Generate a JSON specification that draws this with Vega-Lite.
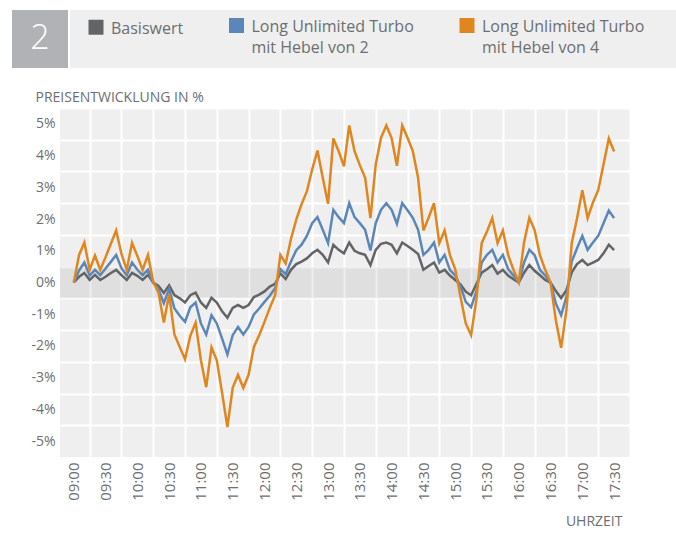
{
  "$schema": "https://vega.github.io/schema/vega-lite/v6.json",
  "padding": {"left": 12, "top": 10, "right": 0, "bottom": 0},
  "background": "white",
  "bounds": "full",
  "spacing": 22,
  "config": {
    "font": "Open Sans",
    "view": {"stroke": null},
    "axis": {"labelOverlap": false},
    "style": {"guide-label": {"lineHeight": 21}}
  },
  "vconcat": [
    {
      "bounds": "flush",
      "spacing": 2,
      "hconcat": [
        {
          "width": 56, "height": 58,
          "view": {"fill": "#b1b2b5", "stroke": null},
          "data": {"values": [{}]},
          "mark": {"type": "text", "text": "2", "fontSize": 34, "fontWeight": 300, "color": "white", "font": "Open Sans"},
          "encoding": {}
        },
        {
          "width": 606, "height": 58,
          "view": {"fill": "#efefef", "stroke": null},
          "data": {"values": []},
          "mark": "rect",
          "encoding": {}
        }
      ]
    },
    {
      "bounds": "flush",
      "spacing": 2,
      "hconcat": [
        {
          "width": 46, "height": 349,
          "data": {"values": []},
          "mark": "rect",
          "encoding": {}
        },
        {
          "width": 570, "height": 349,
          "view": {"fill": "#efefef", "stroke": null},
          "layer": [
            {
              "data": {"values": [{}]},
              "mark": {"type": "rect", "color": "#000000", "opacity": 0.065},
              "encoding": {
                "y": {"datum": -0.5, "type": "quantitative", "axis": {"labelOverlap": false, "tickCount": 20}},
                "y2": {"datum": 0.5}
              }
            },
            {
              "data": {
                "format": {"parse": {"Uhrzeit": "utc:'%H:%M'"}},
                "values": [
{"Uhrzeit":"09:00","Basiswert":0,"Hebel 2":0,"Hebel 4":0},
{"Uhrzeit":"09:05","Basiswert":0.18,"Hebel 2":0.38,"Hebel 4":0.87},
{"Uhrzeit":"09:10","Basiswert":0.30,"Hebel 2":0.63,"Hebel 4":1.26},
{"Uhrzeit":"09:15","Basiswert":0.08,"Hebel 2":0.22,"Hebel 4":0.40},
{"Uhrzeit":"09:20","Basiswert":0.24,"Hebel 2":0.40,"Hebel 4":0.85},
{"Uhrzeit":"09:25","Basiswert":0.08,"Hebel 2":0.23,"Hebel 4":0.40},
{"Uhrzeit":"09:30","Basiswert":0.18,"Hebel 2":0.44,"Hebel 4":0.80},
{"Uhrzeit":"09:35","Basiswert":0.30,"Hebel 2":0.65,"Hebel 4":1.22},
{"Uhrzeit":"09:40","Basiswert":0.40,"Hebel 2":0.87,"Hebel 4":1.64},
{"Uhrzeit":"09:45","Basiswert":0.23,"Hebel 2":0.45,"Hebel 4":0.90},
{"Uhrzeit":"09:50","Basiswert":0.08,"Hebel 2":0.23,"Hebel 4":0.40},
{"Uhrzeit":"09:55","Basiswert":0.30,"Hebel 2":0.63,"Hebel 4":1.25},
{"Uhrzeit":"10:00","Basiswert":0.21,"Hebel 2":0.40,"Hebel 4":0.84},
{"Uhrzeit":"10:05","Basiswert":0.08,"Hebel 2":0.23,"Hebel 4":0.40},
{"Uhrzeit":"10:10","Basiswert":0.24,"Hebel 2":0.40,"Hebel 4":0.87},
{"Uhrzeit":"10:15","Basiswert":0.00,"Hebel 2":0.00,"Hebel 4":0.02},
{"Uhrzeit":"10:20","Basiswert":-0.11,"Hebel 2":-0.22,"Hebel 4":-0.32},
{"Uhrzeit":"10:25","Basiswert":-0.33,"Hebel 2":-0.65,"Hebel 4":-1.26},
{"Uhrzeit":"10:30","Basiswert":-0.09,"Hebel 2":-0.20,"Hebel 4":-0.37},
{"Uhrzeit":"10:35","Basiswert":-0.40,"Hebel 2":-0.82,"Hebel 4":-1.64},
{"Uhrzeit":"10:40","Basiswert":-0.50,"Hebel 2":-1.05,"Hebel 4":-2.03},
{"Uhrzeit":"10:45","Basiswert":-0.63,"Hebel 2":-1.24,"Hebel 4":-2.42},
{"Uhrzeit":"10:50","Basiswert":-0.40,"Hebel 2":-0.78,"Hebel 4":-1.68},
{"Uhrzeit":"10:55","Basiswert":-0.32,"Hebel 2":-0.63,"Hebel 4":-1.27},
{"Uhrzeit":"11:00","Basiswert":-0.63,"Hebel 2":-1.29,"Hebel 4":-2.45},
{"Uhrzeit":"11:05","Basiswert":-0.80,"Hebel 2":-1.64,"Hebel 4":-3.30},
{"Uhrzeit":"11:10","Basiswert":-0.48,"Hebel 2":-1.03,"Hebel 4":-2.04},
{"Uhrzeit":"11:15","Basiswert":-0.63,"Hebel 2":-1.29,"Hebel 4":-2.45},
{"Uhrzeit":"11:20","Basiswert":-0.91,"Hebel 2":-1.77,"Hebel 4":-3.48},
{"Uhrzeit":"11:25","Basiswert":-1.11,"Hebel 2":-2.27,"Hebel 4":-4.56},
{"Uhrzeit":"11:30","Basiswert":-0.80,"Hebel 2":-1.66,"Hebel 4":-3.32},
{"Uhrzeit":"11:35","Basiswert":-0.71,"Hebel 2":-1.40,"Hebel 4":-2.91},
{"Uhrzeit":"11:40","Basiswert":-0.80,"Hebel 2":-1.64,"Hebel 4":-3.32},
{"Uhrzeit":"11:45","Basiswert":-0.71,"Hebel 2":-1.40,"Hebel 4":-2.91},
{"Uhrzeit":"11:50","Basiswert":-0.46,"Hebel 2":-1.01,"Hebel 4":-2.03},
{"Uhrzeit":"11:55","Basiswert":-0.38,"Hebel 2":-0.82,"Hebel 4":-1.66},
{"Uhrzeit":"12:00","Basiswert":-0.28,"Hebel 2":-0.61,"Hebel 4":-1.24},
{"Uhrzeit":"12:05","Basiswert":-0.13,"Hebel 2":-0.42,"Hebel 4":-0.80},
{"Uhrzeit":"12:10","Basiswert":-0.04,"Hebel 2":-0.18,"Hebel 4":-0.41},
{"Uhrzeit":"12:15","Basiswert":0.29,"Hebel 2":0.42,"Hebel 4":0.87},
{"Uhrzeit":"12:20","Basiswert":0.11,"Hebel 2":0.26,"Hebel 4":0.60},
{"Uhrzeit":"12:25","Basiswert":0.40,"Hebel 2":0.66,"Hebel 4":1.37},
{"Uhrzeit":"12:30","Basiswert":0.58,"Hebel 2":1.02,"Hebel 4":1.98},
{"Uhrzeit":"12:35","Basiswert":0.66,"Hebel 2":1.19,"Hebel 4":2.47},
{"Uhrzeit":"12:40","Basiswert":0.76,"Hebel 2":1.47,"Hebel 4":2.87},
{"Uhrzeit":"12:45","Basiswert":0.92,"Hebel 2":1.87,"Hebel 4":3.56},
{"Uhrzeit":"12:50","Basiswert":1.03,"Hebel 2":2.06,"Hebel 4":4.16},
{"Uhrzeit":"12:55","Basiswert":0.87,"Hebel 2":1.66,"Hebel 4":3.30},
{"Uhrzeit":"13:00","Basiswert":0.63,"Hebel 2":1.24,"Hebel 4":2.48},
{"Uhrzeit":"13:05","Basiswert":1.19,"Hebel 2":2.29,"Hebel 4":4.54},
{"Uhrzeit":"13:10","Basiswert":1.03,"Hebel 2":2.06,"Hebel 4":4.14},
{"Uhrzeit":"13:15","Basiswert":0.92,"Hebel 2":1.87,"Hebel 4":3.66},
{"Uhrzeit":"13:20","Basiswert":1.26,"Hebel 2":2.50,"Hebel 4":4.95},
{"Uhrzeit":"13:25","Basiswert":1.00,"Hebel 2":2.06,"Hebel 4":4.14},
{"Uhrzeit":"13:30","Basiswert":0.92,"Hebel 2":1.87,"Hebel 4":3.70},
{"Uhrzeit":"13:35","Basiswert":0.87,"Hebel 2":1.66,"Hebel 4":3.30},
{"Uhrzeit":"13:40","Basiswert":0.55,"Hebel 2":1.01,"Hebel 4":2.03},
{"Uhrzeit":"13:45","Basiswert":1.03,"Hebel 2":1.87,"Hebel 4":3.72},
{"Uhrzeit":"13:50","Basiswert":1.22,"Hebel 2":2.29,"Hebel 4":4.56},
{"Uhrzeit":"13:55","Basiswert":1.26,"Hebel 2":2.50,"Hebel 4":4.95},
{"Uhrzeit":"14:00","Basiswert":1.19,"Hebel 2":2.29,"Hebel 4":4.55},
{"Uhrzeit":"14:05","Basiswert":0.92,"Hebel 2":1.85,"Hebel 4":3.68},
{"Uhrzeit":"14:10","Basiswert":1.26,"Hebel 2":2.50,"Hebel 4":4.95},
{"Uhrzeit":"14:15","Basiswert":1.15,"Hebel 2":2.28,"Hebel 4":4.56},
{"Uhrzeit":"14:20","Basiswert":1.03,"Hebel 2":2.04,"Hebel 4":4.14},
{"Uhrzeit":"14:25","Basiswert":0.90,"Hebel 2":1.66,"Hebel 4":3.30},
{"Uhrzeit":"14:30","Basiswert":0.40,"Hebel 2":0.87,"Hebel 4":1.64},
{"Uhrzeit":"14:35","Basiswert":0.52,"Hebel 2":1.03,"Hebel 4":2.05},
{"Uhrzeit":"14:40","Basiswert":0.63,"Hebel 2":1.26,"Hebel 4":2.50},
{"Uhrzeit":"14:45","Basiswert":0.31,"Hebel 2":0.63,"Hebel 4":1.24},
{"Uhrzeit":"14:50","Basiswert":0.40,"Hebel 2":0.87,"Hebel 4":1.64},
{"Uhrzeit":"14:55","Basiswert":0.22,"Hebel 2":0.40,"Hebel 4":0.87},
{"Uhrzeit":"15:00","Basiswert":0.08,"Hebel 2":0.22,"Hebel 4":0.42},
{"Uhrzeit":"15:05","Basiswert":-0.06,"Hebel 2":-0.12,"Hebel 4":-0.45},
{"Uhrzeit":"15:10","Basiswert":-0.29,"Hebel 2":-0.61,"Hebel 4":-1.29},
{"Uhrzeit":"15:15","Basiswert":-0.40,"Hebel 2":-0.78,"Hebel 4":-1.66},
{"Uhrzeit":"15:20","Basiswert":-0.05,"Hebel 2":-0.28,"Hebel 4":-0.55},
{"Uhrzeit":"15:25","Basiswert":0.31,"Hebel 2":0.63,"Hebel 4":1.24},
{"Uhrzeit":"15:30","Basiswert":0.42,"Hebel 2":0.87,"Hebel 4":1.61},
{"Uhrzeit":"15:35","Basiswert":0.55,"Hebel 2":1.03,"Hebel 4":2.03},
{"Uhrzeit":"15:40","Basiswert":0.28,"Hebel 2":0.63,"Hebel 4":1.24},
{"Uhrzeit":"15:45","Basiswert":0.40,"Hebel 2":0.87,"Hebel 4":1.64},
{"Uhrzeit":"15:50","Basiswert":0.22,"Hebel 2":0.42,"Hebel 4":0.87},
{"Uhrzeit":"15:55","Basiswert":0.10,"Hebel 2":0.22,"Hebel 4":0.40},
{"Uhrzeit":"16:00","Basiswert":0.00,"Hebel 2":0.00,"Hebel 4":0.01},
{"Uhrzeit":"16:05","Basiswert":0.31,"Hebel 2":0.63,"Hebel 4":1.26},
{"Uhrzeit":"16:10","Basiswert":0.55,"Hebel 2":1.03,"Hebel 4":2.04},
{"Uhrzeit":"16:15","Basiswert":0.37,"Hebel 2":0.86,"Hebel 4":1.65},
{"Uhrzeit":"16:20","Basiswert":0.23,"Hebel 2":0.40,"Hebel 4":0.86},
{"Uhrzeit":"16:25","Basiswert":0.08,"Hebel 2":0.22,"Hebel 4":0.40},
{"Uhrzeit":"16:30","Basiswert":0.00,"Hebel 2":0.00,"Hebel 4":0.00},
{"Uhrzeit":"16:35","Basiswert":-0.27,"Hebel 2":-0.66,"Hebel 4":-1.19},
{"Uhrzeit":"16:40","Basiswert":-0.49,"Hebel 2":-1.03,"Hebel 4":-2.06},
{"Uhrzeit":"16:45","Basiswert":-0.24,"Hebel 2":-0.45,"Hebel 4":-0.87},
{"Uhrzeit":"16:50","Basiswert":0.32,"Hebel 2":0.66,"Hebel 4":1.24},
{"Uhrzeit":"16:55","Basiswert":0.58,"Hebel 2":1.08,"Hebel 4":2.02},
{"Uhrzeit":"17:00","Basiswert":0.71,"Hebel 2":1.47,"Hebel 4":2.91},
{"Uhrzeit":"17:05","Basiswert":0.55,"Hebel 2":1.03,"Hebel 4":2.03},
{"Uhrzeit":"17:10","Basiswert":0.63,"Hebel 2":1.26,"Hebel 4":2.52},
{"Uhrzeit":"17:15","Basiswert":0.71,"Hebel 2":1.47,"Hebel 4":2.91},
{"Uhrzeit":"17:20","Basiswert":0.92,"Hebel 2":1.87,"Hebel 4":3.72},
{"Uhrzeit":"17:25","Basiswert":1.19,"Hebel 2":2.27,"Hebel 4":4.54},
{"Uhrzeit":"17:30","Basiswert":1.02,"Hebel 2":2.03,"Hebel 4":4.13}
                ]
              },
              "transform": [{"fold": ["Basiswert", "Hebel 2", "Hebel 4"], "as": ["Serie", "Wert"]}],
              "mark": {"type": "line", "strokeWidth": 2.5},
              "encoding": {
                "x": {
                  "field": "Uhrzeit", "type": "temporal",
                  "scale": {"type": "utc", "domain": [
                    {"year": 1900, "month": 1, "date": 1, "hours": 8, "minutes": 47, "utc": true},
                    {"year": 1900, "month": 1, "date": 1, "hours": 17, "minutes": 45, "utc": true}
                  ]},
                  "axis": {
                    "title": "UHRZEIT",
                    "tickCount": 30,
                    "values": [
                      {"year": 1900, "month": 1, "date": 1, "hours": 9, "minutes": 15, "utc": true},
                      {"year": 1900, "month": 1, "date": 1, "hours": 9, "minutes": 45, "utc": true},
                      {"year": 1900, "month": 1, "date": 1, "hours": 10, "minutes": 15, "utc": true},
                      {"year": 1900, "month": 1, "date": 1, "hours": 10, "minutes": 45, "utc": true},
                      {"year": 1900, "month": 1, "date": 1, "hours": 11, "minutes": 15, "utc": true},
                      {"year": 1900, "month": 1, "date": 1, "hours": 11, "minutes": 45, "utc": true},
                      {"year": 1900, "month": 1, "date": 1, "hours": 12, "minutes": 15, "utc": true},
                      {"year": 1900, "month": 1, "date": 1, "hours": 12, "minutes": 45, "utc": true},
                      {"year": 1900, "month": 1, "date": 1, "hours": 13, "minutes": 15, "utc": true},
                      {"year": 1900, "month": 1, "date": 1, "hours": 13, "minutes": 45, "utc": true},
                      {"year": 1900, "month": 1, "date": 1, "hours": 14, "minutes": 15, "utc": true},
                      {"year": 1900, "month": 1, "date": 1, "hours": 14, "minutes": 45, "utc": true},
                      {"year": 1900, "month": 1, "date": 1, "hours": 15, "minutes": 15, "utc": true},
                      {"year": 1900, "month": 1, "date": 1, "hours": 15, "minutes": 45, "utc": true},
                      {"year": 1900, "month": 1, "date": 1, "hours": 16, "minutes": 15, "utc": true},
                      {"year": 1900, "month": 1, "date": 1, "hours": 16, "minutes": 45, "utc": true},
                      {"year": 1900, "month": 1, "date": 1, "hours": 17, "minutes": 15, "utc": true},
                      {"year": 1900, "month": 1, "date": 1, "hours": 17, "minutes": 45, "utc": true}
                    ],
                    "labelExpr": "utcFormat(datum.value - 900000, '%H:%M')",
                    "labelOffset": -15.9,
                    "labelAngle": 270, "labelAlign": "right", "labelBaseline": "middle",
                    "labelPadding": 5, "labelFontSize": 15, "labelColor": "#6d6e71", "labelLineHeight": 15,
                    "labelFlush": false, "labelOverlap": false,
                    "ticks": false, "domain": false,
                    "grid": true, "gridColor": "#ffffff", "gridWidth": 2, "gridOpacity": 1,
                    "titleX": 562, "titleY": 68, "titleAlign": "right", "titleBaseline": "alphabetic",
                    "titleFontSize": 14, "titleFontWeight": "normal", "titleColor": "#6d6e71"
                  }
                },
                "y": {
                  "field": "Wert", "type": "quantitative",
                  "scale": {"domain": [-5.5, 5.5], "nice": false, "zero": false},
                  "axis": {
                    "title": "PREISENTWICKLUNG IN %",
                    "tickCount": 20,
                    "values": [-4.5, -3.5, -2.5, -1.5, -0.5, 0.5, 1.5, 2.5, 3.5, 4.5, 5.5],
                    "labelExpr": "(datum.value - 0.5) + '%'",
                    "labelOffset": 15.86,
                    "labelFontSize": 14, "labelColor": "#6d6e71", "labelPadding": 5, "labelLineHeight": 14,
                    "labelFlush": false, "labelOverlap": false,
                    "ticks": false, "domain": false,
                    "grid": true, "gridColor": "#ffffff", "gridWidth": 2, "gridOpacity": 1,
                    "titleAngle": 0, "titleX": -25, "titleY": -7, "titleAlign": "left", "titleBaseline": "alphabetic",
                    "titleFontSize": 14, "titleFontWeight": "normal", "titleColor": "#6d6e71"
                  }
                },
                "color": {
                  "field": "Serie", "type": "nominal",
                  "scale": {"domain": ["Basiswert", "Hebel 2", "Hebel 4"], "range": ["#636466", "#5b87b8", "#e0861f"]},
                  "legend": {
                    "title": null, "orient": "none", "legendX": 76, "legendY": 14,
                    "direction": "horizontal", "padding": 0,
                    "symbolType": "M-1,-7.5H1V-5.5H-1Z", "symbolSize": 4, "symbolStrokeWidth": 13,
                    "labelFontSize": 16, "labelColor": "#6d6e71", "labelOffset": 7, "labelLimit": 300,
                    "labelBaseline": "alphabetic",
                    "columnPadding": 25.5,
                    "labelExpr": "datum.label == 'Hebel 2' ? ['Long Unlimited Turbo', 'mit Hebel von 2'] : datum.label == 'Hebel 4' ? ['Long Unlimited Turbo', 'mit Hebel von 4'] : datum.label"
                  }
                }
              }
            }
          ]
        }
      ]
    }
  ]
}
